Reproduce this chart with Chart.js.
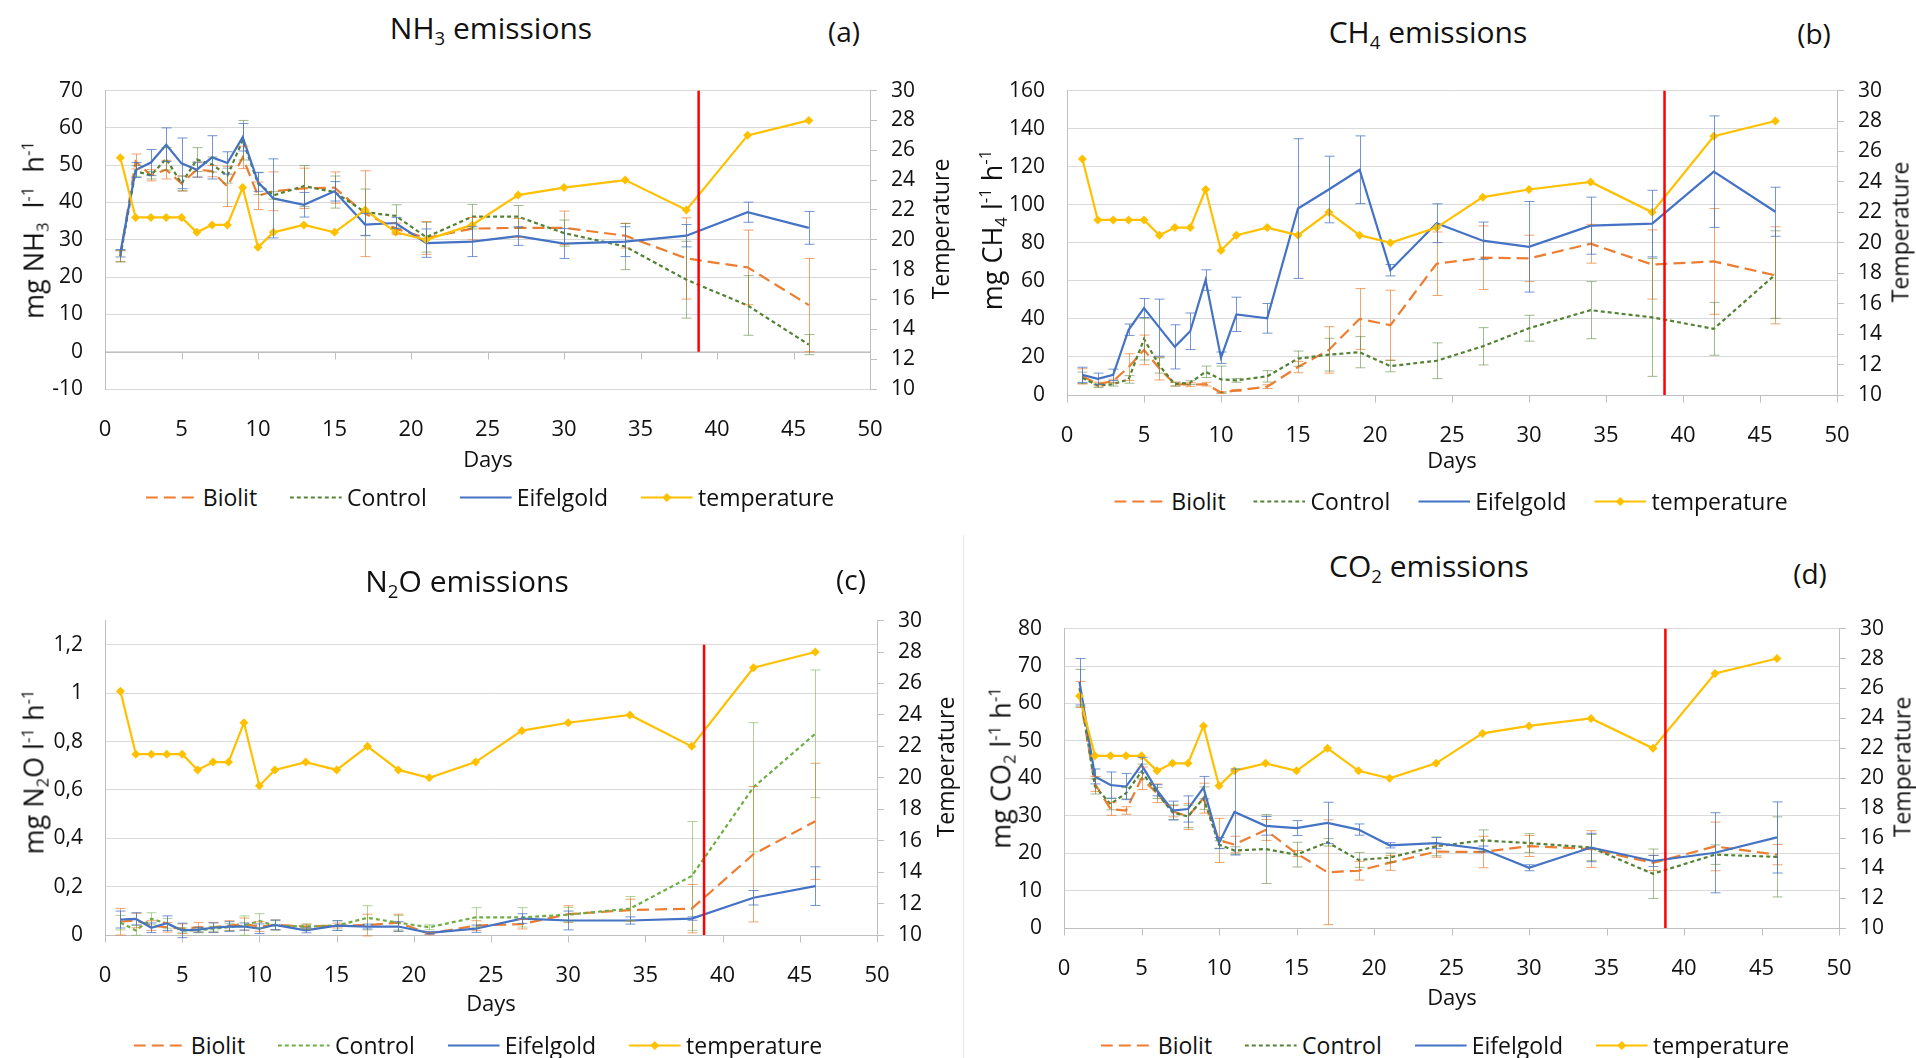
<!DOCTYPE html>
<html>
<head>
<meta charset="utf-8">
<script src="https://cdn.jsdelivr.net/npm/chart.js"></script>
<style>
  body { margin:0; width:1916px; height:1058px; background:#fff; position:relative; overflow:hidden; font-family:"Open Sans", sans-serif; color:#111; }
  canvas { position:absolute; }
  .lbl { position:absolute; white-space:nowrap; line-height:1; transform:translate(-50%,-50%); }
  .title { font-size:30px; }
  .tag { font-size:28px; }
  .ytitle { font-size:27px; transform:translate(-50%,-50%) rotate(-90deg); }
  .rtitle { font-size:23px; transform:translate(-50%,-50%) rotate(-90deg); }
  .days { font-size:22px; }
  sub { font-size:0.62em; vertical-align:-0.3em; line-height:0; }
  sup { font-size:0.62em; vertical-align:0.6em; line-height:0; }
  .legend { position:absolute; display:flex; align-items:center; transform:translate(-50%,-50%); font-size:23px; white-space:nowrap; line-height:1; }
  .legend .item { display:flex; align-items:center; margin-right:33px; }
  .legend .item:last-child { margin-right:0; }
  #legB .item { margin-right:28px; }
  #legB .item:last-child { margin-right:0; }
  .legend svg { margin-right:5px; }
  .divider { position:absolute; left:963px; top:535px; width:1px; height:523px; background:#e8e8e8; }
</style>
</head>
<body>
<div class="divider"></div>
<canvas id="chartA"></canvas>
<canvas id="chartB"></canvas>
<canvas id="chartC"></canvas>
<canvas id="chartD"></canvas>

<div class="lbl title" style="left:491px;top:28px">NH<sub>3</sub> emissions</div>
<div class="lbl tag" style="left:844px;top:31px">(a)</div>
<div class="lbl ytitle" style="left:33px;top:230px">mg NH<sub>3</sub>&nbsp; l<sup>-1</sup>&nbsp; h<sup>-1</sup></div>
<div class="lbl rtitle" style="left:940px;top:229px">Temperature</div>
<div class="lbl days" style="left:488px;top:458px">Days</div>
<div class="legend" id="legA" style="left:490px;top:497px"></div>

<div class="lbl title" style="left:1428px;top:32px">CH<sub>4</sub> emissions</div>
<div class="lbl tag" style="left:1814px;top:33px">(b)</div>
<div class="lbl ytitle" style="left:991px;top:230px">mg CH<sub>4</sub> l<sup>-1</sup> h<sup>-1</sup></div>
<div class="lbl rtitle" style="left:1900px;top:232px">Temperature</div>
<div class="lbl days" style="left:1452px;top:459px">Days</div>
<div class="legend" id="legB" style="left:1451px;top:501px"></div>

<div class="lbl title" style="left:467px;top:581px">N<sub>2</sub>O emissions</div>
<div class="lbl tag" style="left:851px;top:579px">(c)</div>
<div class="lbl ytitle" style="left:33px;top:772px">mg N<sub>2</sub>O l<sup>-1</sup> h<sup>-1</sup></div>
<div class="lbl rtitle" style="left:945px;top:767px">Temperature</div>
<div class="lbl days" style="left:491px;top:1002px">Days</div>
<div class="legend" id="legC" style="left:478px;top:1045px"></div>

<div class="lbl title" style="left:1429px;top:566px">CO<sub>2</sub> emissions</div>
<div class="lbl tag" style="left:1810px;top:573px">(d)</div>
<div class="lbl ytitle" style="left:1000px;top:768px">mg CO<sub>2</sub> l<sup>-1</sup> h<sup>-1</sup></div>
<div class="lbl rtitle" style="left:1902px;top:767px">Temperature</div>
<div class="lbl days" style="left:1452px;top:996px">Days</div>
<div class="legend" id="legD" style="left:1445px;top:1045px"></div>

<script>
// sampling days and mean temperature
const days = [1, 2, 3, 4, 5, 6, 7, 8, 9, 10, 11, 13, 15, 17, 19, 21, 24, 27, 30, 34, 38, 42, 46];
const temperature = [25.5, 21.5, 21.5, 21.5, 21.5, 20.5, 21, 21, 23.5, 19.5, 20.5, 21, 20.5, 22, 20.5, 20, 21, 23, 23.5, 24, 22, 27, 28];
const redLineDay = 38.8;

// NH3 (a)
const nh3Biolit = [25.6, 51, 47.3, 48.8, 45.1, 48.8, 48.4, 44.3, 52.1, 41.8, 43, 43.8, 44, 37, 33, 30.5, 33, 33.2, 33.2, 31.1, 25, 22.6, 12.5];
const nh3BiolitErr = [1.5, 2, 1.5, 2.5, 2, 2, 1.5, 5.4, 3, 3.7, 5.2, 5.4, 4.2, 11.5, 1.5, 4.4, 3, 2.5, 4.5, 3.3, 10.9, 10, 12.5];
const nh3Control = [25.6, 48.4, 47.3, 51.7, 45.1, 51.5, 50.2, 47.2, 56.7, 45.1, 41.9, 44.4, 42.8, 37.4, 36.4, 30.7, 36.2, 36.2, 31.8, 28.2, 19.3, 12.4, 1.9];
const nh3ControlErr = [1.5, 1.5, 1, 3, 2, 3.2, 2, 2, 5.3, 3, 1, 5.5, 4.3, 6.2, 3, 4, 3.3, 3, 3.5, 6.2, 10.3, 8, 2.7];
const nh3Eifelgold = [26.4, 48.7, 50.7, 55.5, 50.5, 48.8, 52.1, 50.6, 57.5, 45.5, 41.1, 39.4, 43, 34.1, 34.5, 29.1, 29.5, 31, 29, 29.5, 31.1, 37.4, 33.2];
const nh3EifelgoldErr = [1, 2, 3.5, 4.5, 6.8, 2, 5.8, 3, 3.7, 2.5, 10.6, 3.3, 2.6, 3, 1.5, 3.8, 4, 2.5, 4, 4, 3, 2.7, 4.4];

// CH4 (b)
const ch4Biolit = [9.8, 5.7, 7.3, 14.7, 23.7, 13.9, 5.7, 5.4, 5.7, 1.3, 2.4, 4.4, 14.7, 23.7, 40, 36.7, 69, 72.2, 71.8, 79.5, 68.6, 70.2, 62.9];
const ch4BiolitErr = [4, 1, 1, 7, 7.8, 6, 1, 1, 1, 0.5, 0.5, 1, 3, 12.2, 16, 18.4, 16.7, 16.7, 12.2, 10.2, 18.2, 27.8, 25.5];
const ch4Control = [9, 4.9, 5.7, 8.2, 29.4, 15.5, 5.7, 6.5, 12.2, 8.2, 7.7, 9.8, 19.1, 21.2, 22.5, 15.2, 18, 25.6, 35.1, 44.6, 40.8, 34.8, 63.3];
const ch4ControlErr = [3, 1, 1, 2, 11, 4, 1, 1, 3, 7, 1, 3, 4, 8.6, 8.2, 3, 9.4, 9.8, 6.8, 15, 31, 13.9, 23];
const ch4Eifelgold = [10.6, 8.5, 10.6, 34.3, 45.7, 35.4, 25.3, 33.5, 60.4, 19.6, 42.4, 40.3, 98, 108, 118.4, 65.6, 90.3, 81.1, 77.9, 89, 90.1, 117.4, 96.3];
const ch4EifelgoldErr = [4, 3, 3, 3, 5, 15, 11.6, 9.6, 5.4, 3, 9, 7.8, 36.7, 17.5, 17.8, 3, 10.2, 9.8, 23.8, 15, 17.5, 29.3, 12.9];

// N2O (c)
const n2oBiolit = [0.055, 0.06, 0.039, 0.032, 0.026, 0.032, 0.032, 0.039, 0.045, 0.035, 0.042, 0.035, 0.039, 0.041, 0.051, 0.006, 0.039, 0.045, 0.086, 0.103, 0.109, 0.334, 0.47];
const n2oBiolitErr = [0.055, 0.03, 0.02, 0.02, 0.02, 0.02, 0.02, 0.02, 0.025, 0.02, 0.02, 0.01, 0.01, 0.045, 0.035, 0.005, 0.02, 0.02, 0.035, 0.045, 0.1, 0.28, 0.24];
const n2oControl = [0.051, 0.019, 0.067, 0.048, 0.019, 0.019, 0.026, 0.032, 0.039, 0.058, 0.039, 0.035, 0.039, 0.071, 0.051, 0.032, 0.073, 0.073, 0.084, 0.109, 0.244, 0.611, 0.832];
const n2oControlErr = [0.03, 0.02, 0.025, 0.02, 0.01, 0.01, 0.01, 0.015, 0.04, 0.03, 0.02, 0.01, 0.02, 0.05, 0.03, 0.01, 0.04, 0.04, 0.03, 0.05, 0.225, 0.267, 0.264];
const n2oEifelgold = [0.064, 0.067, 0.03, 0.049, 0.019, 0.022, 0.03, 0.035, 0.035, 0.026, 0.042, 0.019, 0.039, 0.035, 0.035, 0.009, 0.026, 0.068, 0.06, 0.06, 0.068, 0.154, 0.202];
const n2oEifelgoldErr = [0.035, 0.025, 0.02, 0.03, 0.03, 0.01, 0.02, 0.02, 0.015, 0.02, 0.02, 0.01, 0.02, 0.01, 0.02, 0.005, 0.015, 0.02, 0.039, 0.015, 0.007, 0.03, 0.08];

// CO2 (d)
const co2Biolit = [62.4, 38.5, 31.8, 31.4, 40, 36, 31.2, 29.8, 34.7, 23.4, 22.3, 26.2, 19.9, 14.9, 15.3, 17.4, 20.4, 20.3, 21.9, 21.1, 17.4, 21.8, 19.6];
const co2BiolitErr = [3.5, 2, 1.7, 1, 3, 2.5, 1.5, 3.5, 4, 5.9, 2.2, 2.8, 0.8, 14, 2.5, 2, 1.5, 4.2, 2.8, 4.9, 2, 6.5, 2.7];
const co2Control = [64.1, 37.8, 33.1, 36, 41.8, 36.1, 30.9, 29.8, 34.7, 22.3, 20.7, 21.1, 19.6, 22.9, 18.2, 18.8, 21.8, 23.4, 22.7, 21.5, 14.5, 19.6, 19];
const co2ControlErr = [5, 2, 1.5, 1.5, 2, 1.5, 2, 3, 3, 1, 1, 9.2, 3.3, 1, 2, 1.2, 2.5, 2.8, 2.5, 3.5, 6.6, 2.6, 10.7];
const co2Eifelgold = [65.8, 40.5, 38.2, 37.8, 43.6, 36.8, 31.4, 31.8, 37.5, 22.7, 31, 27.3, 26.7, 28.1, 26.3, 22.1, 22.7, 21.1, 16.1, 21.5, 17.9, 20.1, 24.2];
const co2EifelgoldErr = [6.2, 2, 3.5, 3.5, 2, 1.5, 2.5, 3.5, 3, 1.5, 11.5, 2.5, 2, 5.5, 1.5, 0.7, 1.5, 0.8, 0.8, 3.8, 1.5, 10.7, 9.5];

const ORANGE = '#ED7D31', BLUE = '#4472C4', YELLOW = '#FFC000';

// vertical error bars with caps
const errorBars = {
  id: 'errorBars',
  afterDatasetsDraw(chart) {
    const ctx = chart.ctx;
    chart.data.datasets.forEach((ds, i) => {
      if (!ds.errors) return;
      const meta = chart.getDatasetMeta(i);
      const ys = chart.scales[ds.yAxisID || 'y'];
      ctx.save();
      ctx.strokeStyle = ds.errColor;
      ctx.lineWidth = 1;
      ctx.beginPath();
      meta.data.forEach((pt, j) => {
        const v = ds.data[j].y, e = ds.errors[j];
        const px = Math.round(pt.x) + 0.5;
        const top = ys.getPixelForValue(v + e), bot = ys.getPixelForValue(v - e);
        ctx.moveTo(px, top); ctx.lineTo(px, bot);
        ctx.moveTo(px - 5, top); ctx.lineTo(px + 5, top);
        ctx.moveTo(px - 5, bot); ctx.lineTo(px + 5, bot);
      });
      ctx.stroke();
      ctx.restore();
    });
  }
};

// x axis crossing at y = 0 with small tick marks
const zeroAxis = {
  id: 'zeroAxis',
  beforeDatasetsDraw(chart) {
    const {ctx, scales: {x, y}} = chart;
    const py = Math.round(y.getPixelForValue(0)) + 0.5;
    ctx.save();
    ctx.strokeStyle = '#bfbfbf';
    ctx.lineWidth = 1;
    ctx.beginPath();
    ctx.moveTo(x.left, py); ctx.lineTo(x.right, py);
    x.ticks.forEach(t => {
      const px = Math.round(x.getPixelForValue(t.value)) + 0.5;
      ctx.moveTo(px, py); ctx.lineTo(px, py + 7);
    });
    ctx.stroke();
    ctx.restore();
  }
};

function pts(vals) {
  return days.map((d, i) => ({x: d, y: vals[i]}));
}

function alpha(hex, a) {
  const n = parseInt(hex.slice(1), 16);
  return `rgba(${n >> 16},${(n >> 8) & 255},${n & 255},${a})`;
}

function makePanel(id, box, left, s, green) {
  const [L, T, R, B] = box;
  const cv = document.getElementById(id);
  const w = R - L + 200, h = B - T + 72;
  cv.width = w; cv.height = h;
  cv.style.left = (L - 100) + 'px';
  cv.style.top = (T - 12) + 'px';
  cv.style.width = w + 'px';
  cv.style.height = h + 'px';
  const tickFont = {family: 'Open Sans', size: 21};

  new Chart(cv, {
    type: 'line',
    data: {
      datasets: [
        {label: 'Biolit', data: pts(s[0]), errors: s[1], borderColor: ORANGE, errColor: alpha(ORANGE, 0.7),
         borderDash: [12, 6], borderWidth: 2.2, pointRadius: 0, order: 4},
        {label: 'Control', data: pts(s[2]), errors: s[3], borderColor: green, errColor: alpha(green, 0.55),
         borderDash: [4, 3], borderWidth: 2.2, pointRadius: 0, order: 3},
        {label: 'Eifelgold', data: pts(s[4]), errors: s[5], borderColor: BLUE, errColor: alpha(BLUE, 0.75),
         borderWidth: 2.2, pointRadius: 0, order: 2},
        {label: 'temperature', data: pts(temperature), yAxisID: 'y1', borderColor: YELLOW, borderWidth: 2.2,
         pointStyle: 'rectRot', pointRadius: 4.5, pointBackgroundColor: YELLOW, pointBorderWidth: 0, order: 1},
        {label: 'split', data: [{x: redLineDay, y: 0}, {x: redLineDay, y: left.top}], borderColor: '#FF0000',
         borderWidth: 2.5, pointRadius: 0, order: 0}
      ]
    },
    options: {
      responsive: false,
      animation: false,
      devicePixelRatio: 1,
      layout: {padding: {top: 12, left: 0, right: 0, bottom: 0}},
      plugins: {legend: {display: false}, tooltip: {enabled: false}},
      scales: {
        x: {
          type: 'linear', min: 0, max: 50, bounds: 'data',
          grid: {display: false}, border: {display: false},
          ticks: {stepSize: 5, autoSkip: false, maxRotation: 0, padding: 20, color: '#111',
                  font: {family: 'Open Sans', size: 22}},
          afterFit(sc) { sc.height = 60; }
        },
        y: {
          position: 'left', min: left.min, max: left.max, bounds: 'data',
          grid: {color: '#d9d9d9', drawTicks: false},
          border: {color: '#bfbfbf'},
          ticks: {stepSize: left.step, padding: 22, color: '#111', font: tickFont,
                  callback: left.fmt || (v => v)},
          // keep only ticks up to the last labelled gridline
          afterBuildTicks(sc) { sc.ticks = sc.ticks.filter(t => t.value <= left.top + 1e-9); },
          afterFit(sc) { sc.width = 100; }
        },
        y1: {
          position: 'right', min: 10, max: 30, bounds: 'data',
          grid: {drawOnChartArea: false, tickLength: 7, color: '#bfbfbf'},
          border: {color: '#bfbfbf'},
          ticks: {stepSize: 2, padding: 14, color: '#111', font: tickFont},
          afterFit(sc) { sc.width = 100; }
        }
      }
    },
    plugins: [zeroAxis, errorBars]
  });
}

function legendHtml(green) {
  const sample = (col, dash, diamond) =>
    `<svg width="52" height="14"><line x1="0" y1="7" x2="52" y2="7" stroke="${col}" stroke-width="2.2"` +
    (dash ? ` stroke-dasharray="${dash}"` : '') + `/>` +
    (diamond ? `<polygon points="26,2.5 30.5,7 26,11.5 21.5,7" fill="${col}"/>` : '') + `</svg>`;
  return `<span class="item">${sample(ORANGE, '12 6')}Biolit</span>` +
         `<span class="item">${sample(green, '4 3')}Control</span>` +
         `<span class="item">${sample(BLUE)}Eifelgold</span>` +
         `<span class="item">${sample(YELLOW, null, true)}temperature</span>`;
}

const commaFmt = v => String(Math.round(v * 10) / 10).replace('.', ',');

makePanel('chartA', [105, 68, 870, 389], {min: -10, max: 70, step: 10, top: 70},
  [nh3Biolit, nh3BiolitErr, nh3Control, nh3ControlErr, nh3Eifelgold, nh3EifelgoldErr], '#548235');
makePanel('chartB', [1067, 68, 1837, 395], {min: 0, max: 160, step: 20, top: 160},
  [ch4Biolit, ch4BiolitErr, ch4Control, ch4ControlErr, ch4Eifelgold, ch4EifelgoldErr], '#548235');
makePanel('chartC', [105, 598, 877, 935], {min: 0, max: 1.3, step: 0.2, top: 1.2, fmt: commaFmt},
  [n2oBiolit, n2oBiolitErr, n2oControl, n2oControlErr, n2oEifelgold, n2oEifelgoldErr], '#70AD47');
makePanel('chartD', [1064, 606, 1839, 928], {min: 0, max: 80, step: 10, top: 80},
  [co2Biolit, co2BiolitErr, co2Control, co2ControlErr, co2Eifelgold, co2EifelgoldErr], '#548235');

document.getElementById('legA').innerHTML = legendHtml('#548235');
document.getElementById('legB').innerHTML = legendHtml('#548235');
document.getElementById('legC').innerHTML = legendHtml('#70AD47');
document.getElementById('legD').innerHTML = legendHtml('#548235');
</script>
</body>
</html>
